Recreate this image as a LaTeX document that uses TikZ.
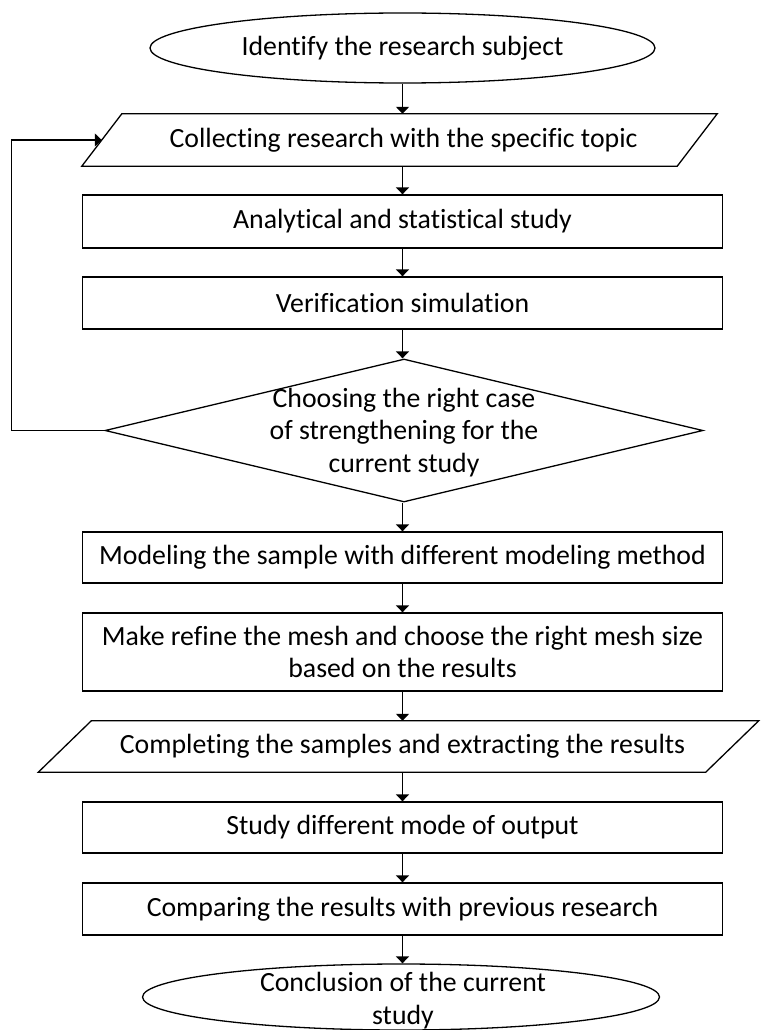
\documentclass[tikz,border=0pt]{standalone}
\usepackage{fontspec}
\setmainfont{Carlito}[Ligatures=NoCommon]
\usetikzlibrary{shapes.geometric,arrows.meta,calc}
\begin{document}
\begin{tikzpicture}[x=1pt,y=-1pt,
  every node/.style={font=\fontsize{27.8}{32.5}\selectfont, align=center, inner sep=0pt},
  line/.style={line width=1.3pt},
  box/.style={draw, line width=1.3pt, rectangle, minimum width=640pt},
  term/.style={draw, line width=1.3pt, ellipse},
  decide/.style={draw, line width=1.3pt, diamond},
  arr/.style={line width=1.3pt, -{Triangle[width=13pt,length=7pt]}}
]
\fill[white] (0,0) rectangle (777,1030);
\useasboundingbox (0,0) rectangle (777,1030);
\clip (0,0) rectangle (777,1030);

% terminals
\node[term, minimum width=505pt, minimum height=70pt] (e1) at (402.5,48) {Identify the research subject};

% parallelogram 1 (body node, outline drawn)
\node[minimum width=595pt, minimum height=52pt] (p1) at (399.5,140) {\hspace*{8pt}Collecting research with the specific topic};
\draw[line] ($(p1.north west)+(20,0)$) -- ($(p1.north east)+(20,0)$) -- ($(p1.south east)+(-20,0)$) -- ($(p1.south west)+(-20,0)$) -- cycle;

\node[box, minimum height=53pt] (r2) at (402.5,221.5) {Analytical and statistical study};
\node[box, minimum height=52pt] (r3) at (402.5,303) {Verification simulation};

\node[decide, minimum width=598pt, minimum height=143pt] (d) at (404,430.5) {};
\node (dt) at (404,432.5) {Choosing the right case\\of strengthening for the\\current study};

\node[box, minimum height=51pt] (r4) at (402.5,557.5) {Modeling the sample with different modeling method};
\node[box, minimum height=78pt] (r5) at (402.5,652) {Make refine the mesh and choose the right mesh size\\based on the results};

% parallelogram 2
\node[minimum width=667pt, minimum height=51pt] (p2) at (398.5,746.5) {\hspace*{8pt}Completing the samples and extracting the results};
\draw[line] ($(p2.north west)+(26.5,0)$) -- ($(p2.north east)+(26.5,0)$) -- ($(p2.south east)+(-26.5,0)$) -- ($(p2.south west)+(-26.5,0)$) -- cycle;

\node[box, minimum height=51pt] (r6) at (402.5,827.5) {Study different mode of output};
\node[box, minimum height=52pt] (r7) at (402.5,909) {Comparing the results with previous research};

\node[term, minimum width=517pt, minimum height=66pt] (e2) at (401,997) {};
\node (e2t) at (403,1000.5) {Conclusion of the current\\study};

% connectors
\draw[arr] (e1.south) -- (e1.south |- p1.north);
\draw[arr] (e1.south |- p1.south) -- (e1.south |- r2.north);
\draw[arr] (r2.south) -- (r3.north);
\draw[arr] (r3.south) -- (r3.south |- d.north);
\draw[arr] (r3.south |- d.south) -- (r4.north);
\draw[arr] (r4.south) -- (r5.north);
\draw[arr] (r5.south) -- (r5.south |- p2.north);
\draw[arr] (r5.south |- p2.south) -- (r6.north);
\draw[arr] (r6.south) -- (r7.north);
\draw[arr] (r7.south) -- (r7.south |- e2.north);
\draw[arr] (d.west) -| ++(-93,0) |- (p1.west);
\end{tikzpicture}
\end{document}
